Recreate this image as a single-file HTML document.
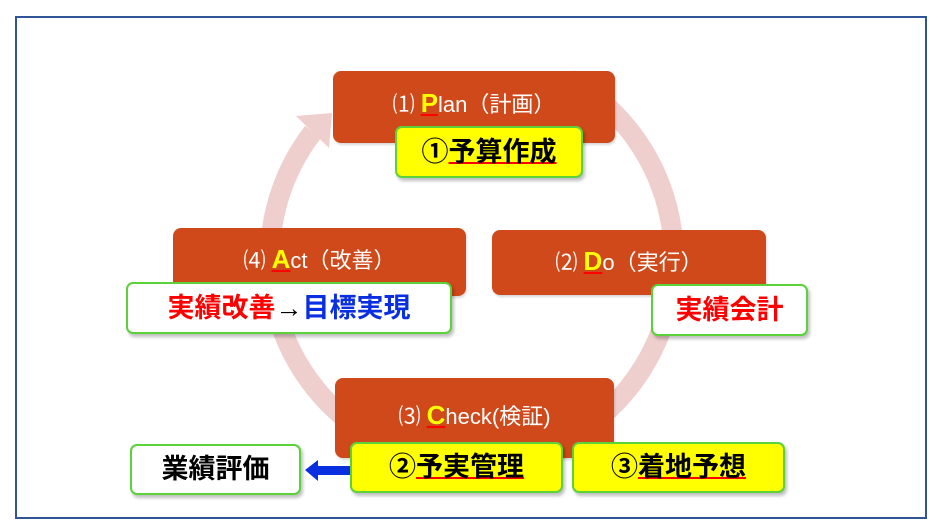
<!DOCTYPE html>
<html><head><meta charset="utf-8"><style>
body{margin:0;width:939px;height:528px;background:#fff;position:relative;overflow:hidden;font-family:"Liberation Sans","Noto Sans CJK JP",sans-serif}
.frame{position:absolute;left:15px;top:16px;width:912px;height:503px;border:2px solid #2f5597;box-sizing:border-box}
.o{position:absolute;background:#d0491a;border-radius:8px;color:#fff;font-size:22px;text-align:center;box-shadow:1px 2px 2px rgba(0,0,0,.15)}
.o span.l{color:#ffff00;font-weight:bold;font-size:26px;text-decoration:underline;text-decoration-color:#ff0000}
.s{position:absolute;border:2px solid #5bd13a;border-radius:7px;box-sizing:border-box;font-weight:bold;font-size:27px;text-align:center;box-shadow:2px 3px 3px rgba(0,0,0,.25)}
.y{background:#ffff00;color:#000}
.w{background:#fff}
u{text-decoration-color:#ff0000;text-decoration-thickness:2px}
</style></head><body>
<div class="frame"></div>
<svg style="position:absolute;left:0;top:0" width="939" height="528">
<path d="M569,79 A202 205 0 1 1 313,132" fill="none" stroke="#efcfcd" stroke-width="20"/>
<polygon points="296,116 332,113 329,148" fill="#efcfcd"/>
<polygon points="305,470 318,460 318,466 350,466 350,475 318,475 318,481" fill="#0a2fe0"/>
</svg>
<div class="o" style="left:333px;top:71px;width:282px;height:72px;line-height:64px">⑴ <span class="l">P</span>lan（計画）</div>
<div class="s y" style="left:395px;top:126px;width:188px;height:52px;line-height:48px">①<u>予算作成</u></div>
<div class="o" style="left:173px;top:228px;width:293px;height:68px;line-height:62px">⑷ <span class="l">A</span>ct（改善）</div>
<div class="s w" style="left:126px;top:282px;width:326px;height:52px;line-height:48px"><span style="color:#ff0000">実績改善</span><span style="font-weight:normal">→</span><span style="color:#0a2fe0">目標実現</span></div>
<div class="o" style="left:492px;top:230px;width:274px;height:65px;line-height:62px">⑵ <span class="l">D</span>o（実行）</div>
<div class="s w" style="left:651px;top:284px;width:157px;height:52px;line-height:48px;color:#ff0000">実績会計</div>
<div class="o" style="left:335px;top:378px;width:279px;height:80px;line-height:74px">⑶ <span class="l">C</span>heck(検証)</div>
<div class="s w" style="left:130px;top:444px;width:171px;height:51px;line-height:47px;color:#000">業績評価</div>
<div class="s y" style="left:350px;top:442px;width:213px;height:51px;line-height:47px">②<u>予実管理</u></div>
<div class="s y" style="left:572px;top:442px;width:213px;height:51px;line-height:47px">③<u>着地予想</u></div>
</body></html>
